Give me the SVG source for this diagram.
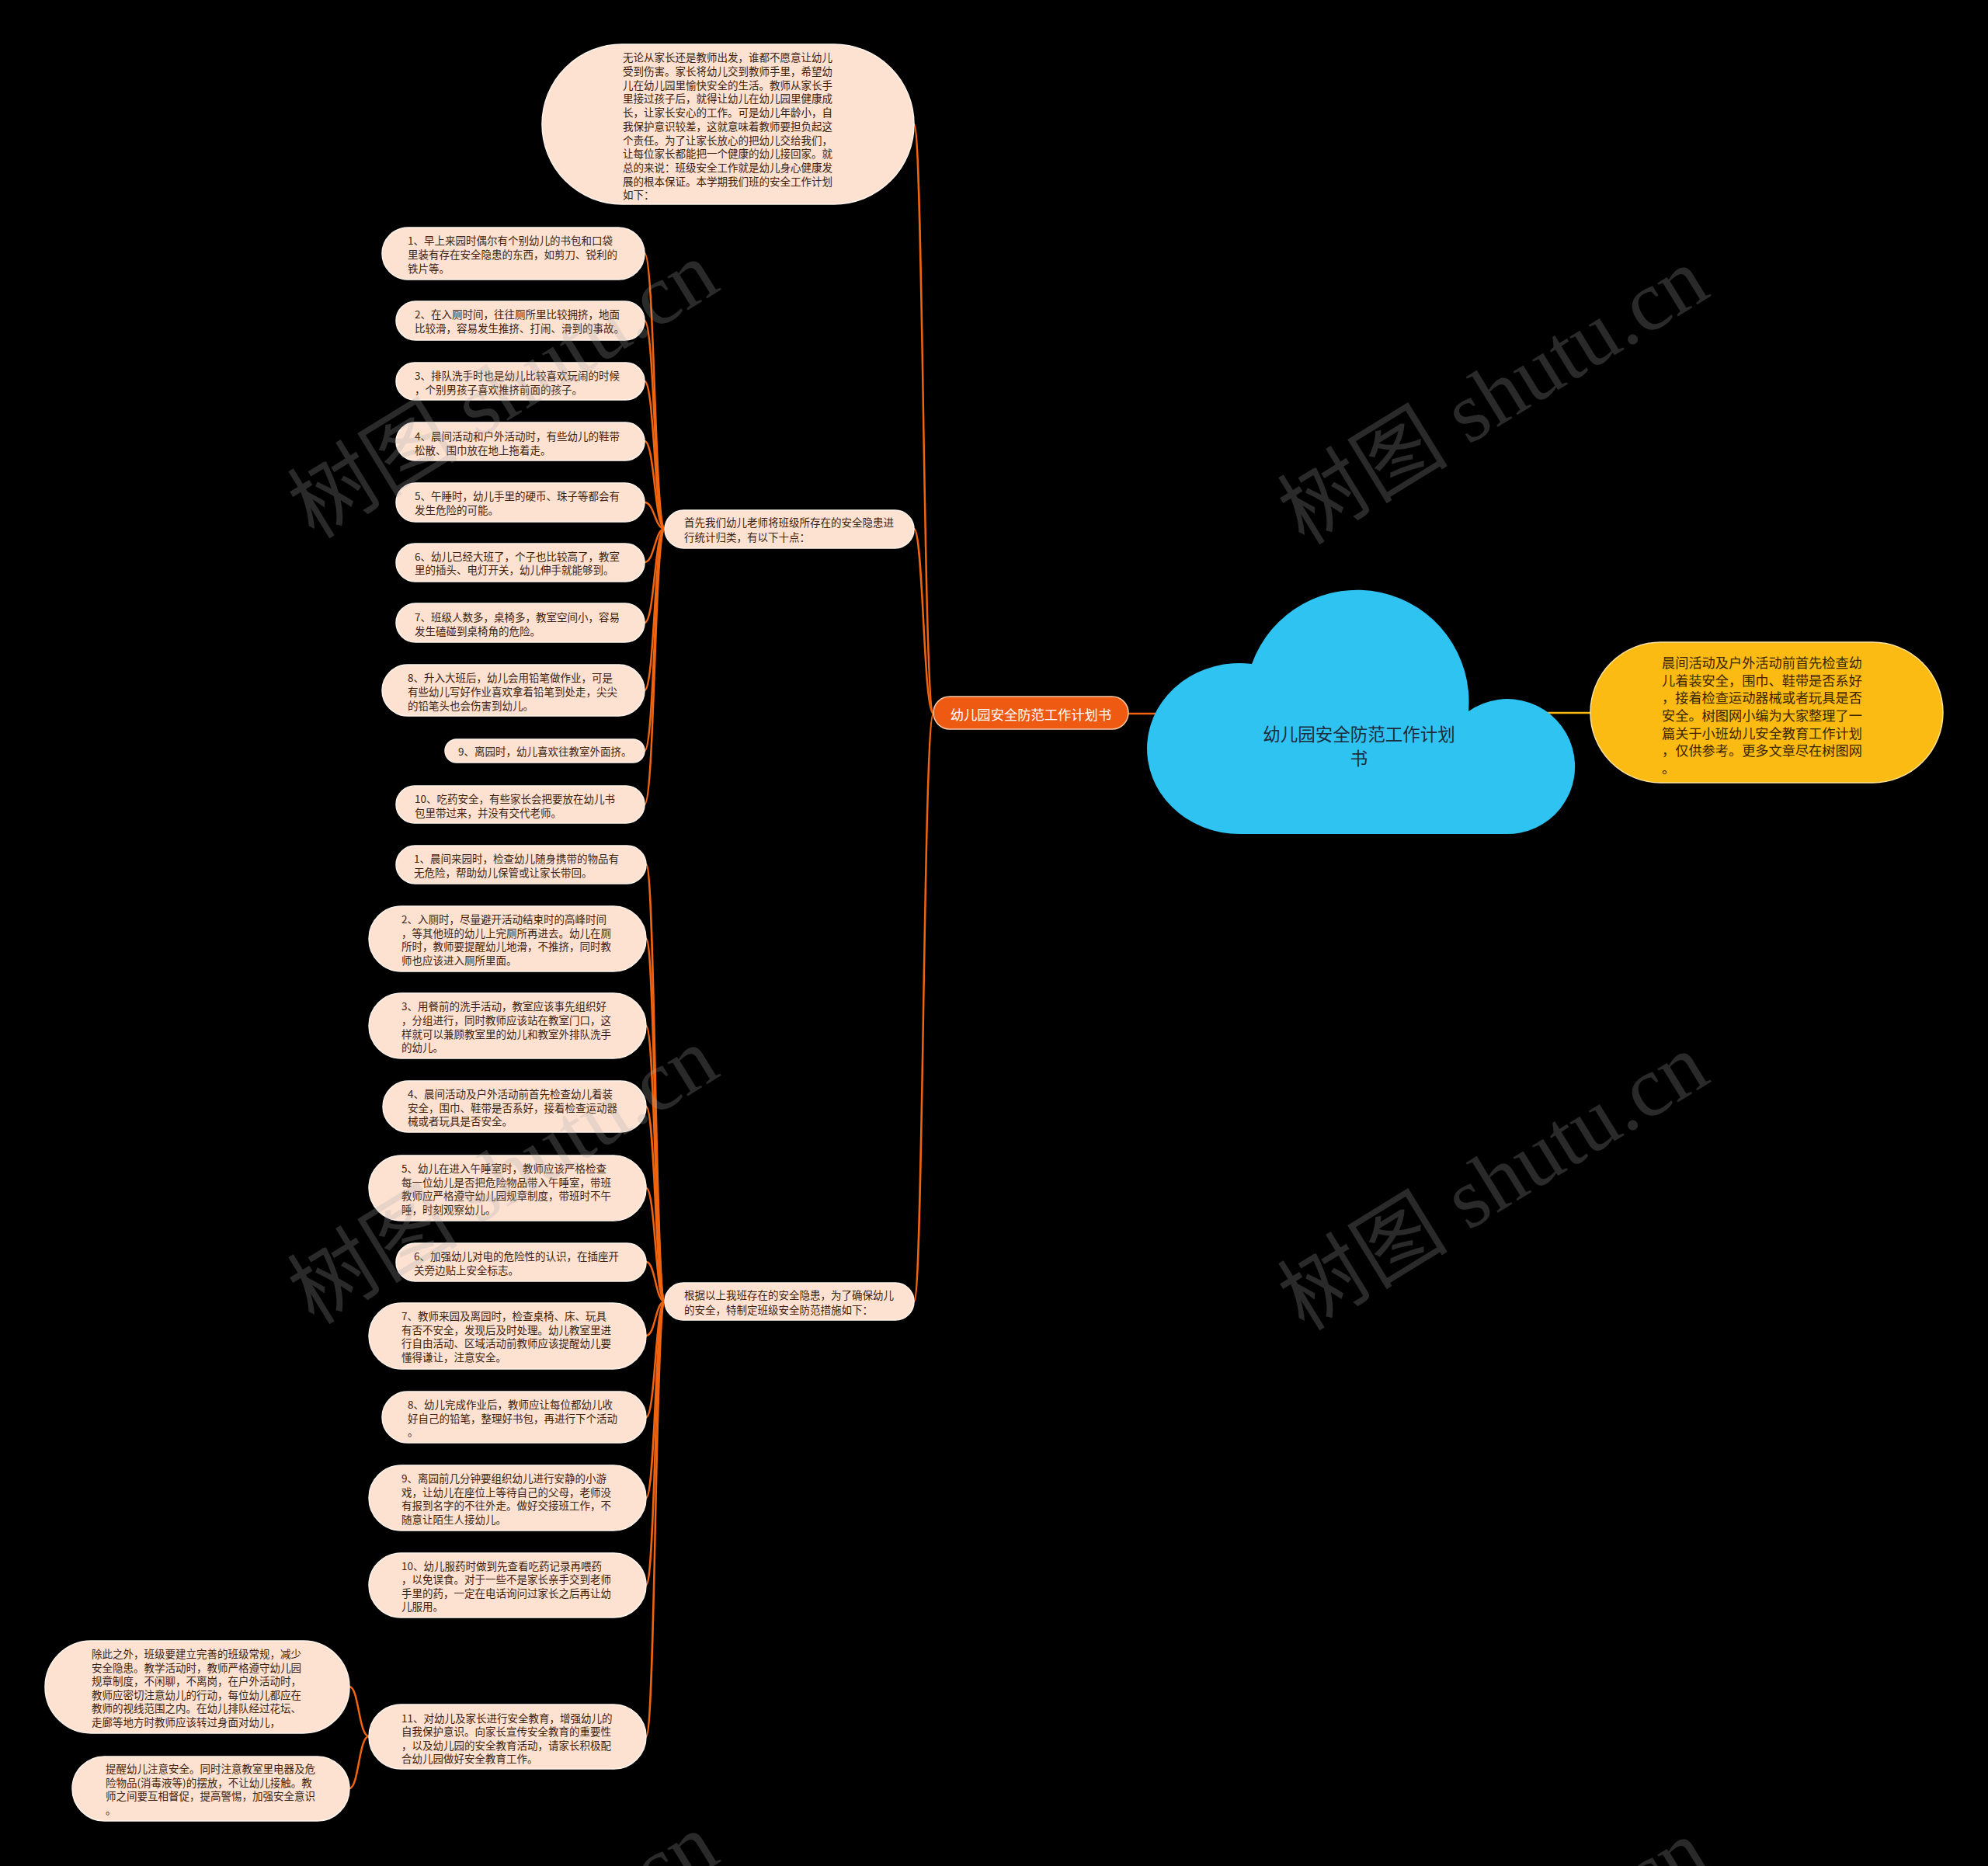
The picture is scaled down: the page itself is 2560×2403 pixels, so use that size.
<svg xmlns="http://www.w3.org/2000/svg" width="2560" height="2403" viewBox="0 0 2560 2403">
<style>
.bg{fill:#000}
.leaf{fill:#fde2d2;stroke:#fff4ec;stroke-width:1.5}
.t{font-family:"Noto Sans CJK SC","Noto Sans",sans-serif;font-size:13.5px;fill:#3e1f10;dominant-baseline:central}
.conn{fill:none;stroke:#f0640f;stroke-width:2.5}
.yconn{fill:none;stroke:#f8b90e;stroke-width:2.5}
.wm{font-family:"Liberation Serif","Noto Sans CJK SC",serif;font-size:110px;fill:#a8a8a8;opacity:0.25;text-anchor:middle;dominant-baseline:central}
</style>
<rect class="bg" x="0" y="0" width="2560" height="2403"/>

<g id="connectors">
  <path class="conn" d="M1202 919 C1189 919,1189 160,1177 160"/>
  <path class="conn" d="M1202 919 C1189 919,1189 681,1177 681"/>
  <path class="conn" d="M1202 919 C1189 919,1189 1676,1177 1676"/>
  <path class="conn" d="M1453 919 L1530 919"/>
  <path class="yconn" d="M1960 918 L2050 918"/>
  <path class="conn" d="M856 681 C843 681,843 326,830 326"/>
  <path class="conn" d="M856 681 C843 681,843 413,830 413"/>
  <path class="conn" d="M856 681 C843 681,843 491,830 491"/>
  <path class="conn" d="M856 681 C843 681,843 568,830 568"/>
  <path class="conn" d="M856 681 C843 681,843 647,830 647"/>
  <path class="conn" d="M856 681 C843 681,843 724,830 724"/>
  <path class="conn" d="M856 681 C843 681,843 802,830 802"/>
  <path class="conn" d="M856 681 C843 681,843 889,830 889"/>
  <path class="conn" d="M856 681 C843 681,843 967,830 967"/>
  <path class="conn" d="M856 681 C843 681,843 1036,830 1036"/>
  <path class="conn" d="M856 1676 C844 1676,844 1113,832 1113"/>
  <path class="conn" d="M856 1676 C844 1676,844 1209,832 1209"/>
  <path class="conn" d="M856 1676 C844 1676,844 1321,832 1321"/>
  <path class="conn" d="M856 1676 C844 1676,844 1425,832 1425"/>
  <path class="conn" d="M856 1676 C844 1676,844 1530,832 1530"/>
  <path class="conn" d="M856 1676 C844 1676,844 1625,832 1625"/>
  <path class="conn" d="M856 1676 C844 1676,844 1720,832 1720"/>
  <path class="conn" d="M856 1676 C844 1676,844 1825,832 1825"/>
  <path class="conn" d="M856 1676 C844 1676,844 1929,832 1929"/>
  <path class="conn" d="M856 1676 C844 1676,844 2041,832 2041"/>
  <path class="conn" d="M856 1676 C844 1676,844 2236,832 2236"/>
  <path class="conn" d="M475 2236 C462 2236,462 2172,450 2172"/>
  <path class="conn" d="M475 2236 C462 2236,462 2303,450 2303"/>
</g>

<g id="intro">
  <rect class="leaf" x="698" y="57" width="479" height="206" rx="103"/>
  <text class="t"><tspan x="802" y="73.3">无论从家长还是教师出发，谁都不愿意让幼儿</tspan><tspan x="802" y="91">受到伤害。家长将幼儿交到教师手里，希望幼</tspan><tspan x="802" y="108.7">儿在幼儿园里愉快安全的生活。教师从家长手</tspan><tspan x="802" y="126.4">里接过孩子后，就得让幼儿在幼儿园里健康成</tspan><tspan x="802" y="144.1">长，让家长安心的工作。可是幼儿年龄小，自</tspan><tspan x="802" y="161.8">我保护意识较差，这就意味着教师要担负起这</tspan><tspan x="802" y="179.5">个责任。为了让家长放心的把幼儿交给我们，</tspan><tspan x="802" y="197.2">让每位家长都能把一个健康的幼儿接回家。就</tspan><tspan x="802" y="214.9">总的来说：班级安全工作就是幼儿身心健康发</tspan><tspan x="802" y="232.6">展的根本保证。本学期我们班的安全工作计划</tspan><tspan x="802" y="250.3">如下：</tspan></text>
</g>

<g id="hazards">
  <rect class="leaf" x="856" y="657" width="321" height="49" rx="24.5"/>
  <text class="t"><tspan x="881" y="672">首先我们幼儿老师将班级所存在的安全隐患进</tspan><tspan x="881" y="691">行统计归类，有以下十点：</tspan></text>
</g>

<g id="measures">
  <rect class="leaf" x="856" y="1652" width="321" height="48" rx="24"/>
  <text class="t"><tspan x="881" y="1667">根据以上我班存在的安全隐患，为了确保幼儿</tspan><tspan x="881" y="1686">的安全，特制定班级安全防范措施如下：</tspan></text>
</g>

<g id="h1"><rect class="leaf" x="492" y="293" width="338" height="67" rx="33.5"/><text class="t"><tspan x="525" y="309">1、早上来园时偶尔有个别幼儿的书包和口袋</tspan><tspan x="525" y="327">里装有存在安全隐患的东西，如剪刀、锐利的</tspan><tspan x="525" y="345">铁片等。</tspan></text></g>
<g id="h2"><rect class="leaf" x="510" y="388" width="320" height="50" rx="25"/><text class="t"><tspan x="534" y="404">2、在入厕时间，往往厕所里比较拥挤，地面</tspan><tspan x="534" y="422">比较滑，容易发生推挤、打闹、滑到的事故。</tspan></text></g>
<g id="h3"><rect class="leaf" x="510" y="467" width="320" height="48" rx="24"/><text class="t"><tspan x="534" y="483">3、排队洗手时也是幼儿比较喜欢玩闹的时候</tspan><tspan x="534" y="501">，个别男孩子喜欢推挤前面的孩子。</tspan></text></g>
<g id="h4"><rect class="leaf" x="510" y="544" width="320" height="49" rx="24.5"/><text class="t"><tspan x="534" y="561">4、晨间活动和户外活动时，有些幼儿的鞋带</tspan><tspan x="534" y="579">松散、围巾放在地上拖着走。</tspan></text></g>
<g id="h5"><rect class="leaf" x="510" y="622" width="320" height="50" rx="25"/><text class="t"><tspan x="534" y="638">5、午睡时，幼儿手里的硬币、珠子等都会有</tspan><tspan x="534" y="656">发生危险的可能。</tspan></text></g>
<g id="h6"><rect class="leaf" x="510" y="700" width="320" height="49" rx="24.5"/><text class="t"><tspan x="534" y="716">6、幼儿已经大班了，个子也比较高了，教室</tspan><tspan x="534" y="733">里的插头、电灯开关，幼儿伸手就能够到。</tspan></text></g>
<g id="h7"><rect class="leaf" x="510" y="777" width="320" height="50" rx="25"/><text class="t"><tspan x="534" y="794">7、班级人数多，桌椅多，教室空间小，容易</tspan><tspan x="534" y="812">发生磕碰到桌椅角的危险。</tspan></text></g>
<g id="h8"><rect class="leaf" x="492" y="856" width="338" height="66" rx="33"/><text class="t"><tspan x="525" y="872">8、升入大班后，幼儿会用铅笔做作业，可是</tspan><tspan x="525" y="890">有些幼儿写好作业喜欢拿着铅笔到处走，尖尖</tspan><tspan x="525" y="908">的铅笔头也会伤害到幼儿。</tspan></text></g>
<g id="h9"><rect class="leaf" x="573" y="952" width="257" height="30" rx="15"/><text class="t"><tspan x="590" y="967">9、离园时，幼儿喜欢往教室外面挤。</tspan></text></g>
<g id="h10"><rect class="leaf" x="510" y="1012" width="320" height="48" rx="24"/><text class="t"><tspan x="534" y="1028">10、吃药安全，有些家长会把要放在幼儿书</tspan><tspan x="534" y="1046">包里带过来，并没有交代老师。</tspan></text></g>

<g id="m1"><rect class="leaf" x="510" y="1089" width="322" height="49" rx="24.5"/><text class="t"><tspan x="533" y="1105">1、晨间来园时，检查幼儿随身携带的物品有</tspan><tspan x="533" y="1123">无危险，帮助幼儿保管或让家长带回。</tspan></text></g>
<g id="m2"><rect class="leaf" x="475" y="1167" width="357" height="84" rx="42"/><text class="t"><tspan x="517" y="1183">2、入厕时，尽量避开活动结束时的高峰时间</tspan><tspan x="517" y="1201">，等其他班的幼儿上完厕所再进去。幼儿在厕</tspan><tspan x="517" y="1218">所时，教师要提醒幼儿地滑，不推挤，同时教</tspan><tspan x="517" y="1236">师也应该进入厕所里面。</tspan></text></g>
<g id="m3"><rect class="leaf" x="475" y="1279" width="357" height="84" rx="42"/><text class="t"><tspan x="517" y="1295">3、用餐前的洗手活动，教室应该事先组织好</tspan><tspan x="517" y="1313">，分组进行，同时教师应该站在教室门口，这</tspan><tspan x="517" y="1331">样就可以兼顾教室里的幼儿和教室外排队洗手</tspan><tspan x="517" y="1348">的幼儿。</tspan></text></g>
<g id="m4"><rect class="leaf" x="493" y="1392" width="339" height="66" rx="33"/><text class="t"><tspan x="525" y="1408">4、晨间活动及户外活动前首先检查幼儿着装</tspan><tspan x="525" y="1426">安全，围巾、鞋带是否系好，接着检查运动器</tspan><tspan x="525" y="1443">械或者玩具是否安全。</tspan></text></g>
<g id="m5"><rect class="leaf" x="475" y="1488" width="357" height="84" rx="42"/><text class="t"><tspan x="517" y="1504">5、幼儿在进入午睡室时，教师应该严格检查</tspan><tspan x="517" y="1522">每一位幼儿是否把危险物品带入午睡室，带班</tspan><tspan x="517" y="1539">教师应严格遵守幼儿园规章制度，带班时不午</tspan><tspan x="517" y="1557">睡，时刻观察幼儿。</tspan></text></g>
<g id="m6"><rect class="leaf" x="510" y="1601" width="322" height="49" rx="24.5"/><text class="t"><tspan x="533" y="1617">6、加强幼儿对电的危险性的认识，在插座开</tspan><tspan x="533" y="1635">关旁边贴上安全标志。</tspan></text></g>
<g id="m7"><rect class="leaf" x="475" y="1678" width="357" height="85" rx="42.5"/><text class="t"><tspan x="517" y="1694">7、教师来园及离园时，检查桌椅、床、玩具</tspan><tspan x="517" y="1712">有否不安全，发现后及时处理。幼儿教室里进</tspan><tspan x="517" y="1729">行自由活动、区域活动前教师应该提醒幼儿要</tspan><tspan x="517" y="1747">懂得谦让，注意安全。</tspan></text></g>
<g id="m8"><rect class="leaf" x="492" y="1792" width="340" height="66" rx="33"/><text class="t"><tspan x="525" y="1808">8、幼儿完成作业后，教师应让每位都幼儿收</tspan><tspan x="525" y="1826">好自己的铅笔，整理好书包，再进行下个活动</tspan><tspan x="525" y="1843">。</tspan></text></g>
<g id="m9"><rect class="leaf" x="475" y="1887" width="357" height="84" rx="42"/><text class="t"><tspan x="517" y="1903">9、离园前几分钟要组织幼儿进行安静的小游</tspan><tspan x="517" y="1921">戏，让幼儿在座位上等待自己的父母，老师没</tspan><tspan x="517" y="1938">有报到名字的不往外走。做好交接班工作，不</tspan><tspan x="517" y="1956">随意让陌生人接幼儿。</tspan></text></g>
<g id="m10"><rect class="leaf" x="475" y="2000" width="357" height="83" rx="41.5"/><text class="t"><tspan x="517" y="2016">10、幼儿服药时做到先查看吃药记录再喂药</tspan><tspan x="517" y="2033">，以免误食。对于一些不是家长亲手交到老师</tspan><tspan x="517" y="2051">手里的药，一定在电话询问过家长之后再让幼</tspan><tspan x="517" y="2068">儿服用。</tspan></text></g>
<g id="m11"><rect class="leaf" x="475" y="2195" width="357" height="83" rx="41.5"/><text class="t"><tspan x="517" y="2212">11、对幼儿及家长进行安全教育，增强幼儿的</tspan><tspan x="517" y="2229">自我保护意识。向家长宣传安全教育的重要性</tspan><tspan x="517" y="2247">，以及幼儿园的安全教育活动，请家长积极配</tspan><tspan x="517" y="2264">合幼儿园做好安全教育工作。</tspan></text></g>

<g id="b1"><rect class="leaf" x="58" y="2113" width="392" height="119" rx="59.5"/><text class="t"><tspan x="118" y="2129">除此之外，班级要建立完善的班级常规，减少</tspan><tspan x="118" y="2147">安全隐患。教学活动时，教师严格遵守幼儿园</tspan><tspan x="118" y="2164">规章制度，不闲聊，不离岗，在户外活动时，</tspan><tspan x="118" y="2182">教师应密切注意幼儿的行动，每位幼儿都应在</tspan><tspan x="118" y="2199">教师的视线范围之内。在幼儿排队经过花坛、</tspan><tspan x="118" y="2217">走廊等地方时教师应该转过身面对幼儿，</tspan></text></g>
<g id="b2"><rect class="leaf" x="93" y="2262" width="357" height="83" rx="41.5"/><text class="t"><tspan x="136" y="2277">提醒幼儿注意安全。同时注意教室里电器及危</tspan><tspan x="136" y="2295">险物品(消毒液等)的摆放，不让幼儿接触。教</tspan><tspan x="136" y="2312">师之间要互相督促，提高警惕，加强安全意识</tspan><tspan x="136" y="2330">。</tspan></text></g>

<g id="branch">
  <rect x="1202" y="897" width="251" height="42" rx="21" fill="#ee5a12" stroke="#f9c9a6" stroke-width="1.5"/>
  <text x="1327.5" y="919" font-family="'Noto Sans CJK SC','Noto Sans',sans-serif" font-size="17.3px" fill="#ffffff" text-anchor="middle" dominant-baseline="central">幼儿园安全防范工作计划书</text>
</g>

<g id="root">
  <path d="M1597 1074 A119 110 0 1 1 1612 855 A144 144 0 0 1 1891 916 A87 87 0 1 1 1937 1074 Z" fill="#2fc3f2"/>
  <text font-family="'Noto Sans CJK SC','Noto Sans',sans-serif" font-size="22.5px" fill="#1e2b3a" text-anchor="middle" dominant-baseline="central"><tspan x="1750" y="944">幼儿园安全防范工作计划</tspan><tspan x="1750" y="975">书</tspan></text>
</g>

<g id="note">
  <rect x="2048" y="827" width="454" height="181" rx="90.5" fill="#fcbb13" stroke="#fde3a3" stroke-width="1.5"/>
  <text font-family="'Noto Sans CJK SC','Noto Sans',sans-serif" font-size="17.2px" fill="#3a2400" dominant-baseline="central"><tspan x="2140" y="852">晨间活动及户外活动前首先检查幼</tspan><tspan x="2140" y="875">儿着装安全，围巾、鞋带是否系好</tspan><tspan x="2140" y="897">，接着检查运动器械或者玩具是否</tspan><tspan x="2140" y="920">安全。树图网小编为大家整理了一</tspan><tspan x="2140" y="943">篇关于小班幼儿安全教育工作计划</tspan><tspan x="2140" y="965">，仅供参考。更多文章尽在树图网</tspan><tspan x="2140" y="988">。</tspan></text>
</g>

<g id="watermarks">
  <text class="wm" transform="translate(648 502) rotate(-31.6)">树图 shutu.cn</text>
  <text class="wm" transform="translate(1923 510) rotate(-31.6)">树图 shutu.cn</text>
  <text class="wm" transform="translate(648 1514) rotate(-31.6)">树图 shutu.cn</text>
  <text class="wm" transform="translate(1923 1522) rotate(-31.6)">树图 shutu.cn</text>
  <text class="wm" transform="translate(648 2526) rotate(-31.6)">树图 shutu.cn</text>
  <text class="wm" transform="translate(1923 2534) rotate(-31.6)">树图 shutu.cn</text>
</g>
</svg>
